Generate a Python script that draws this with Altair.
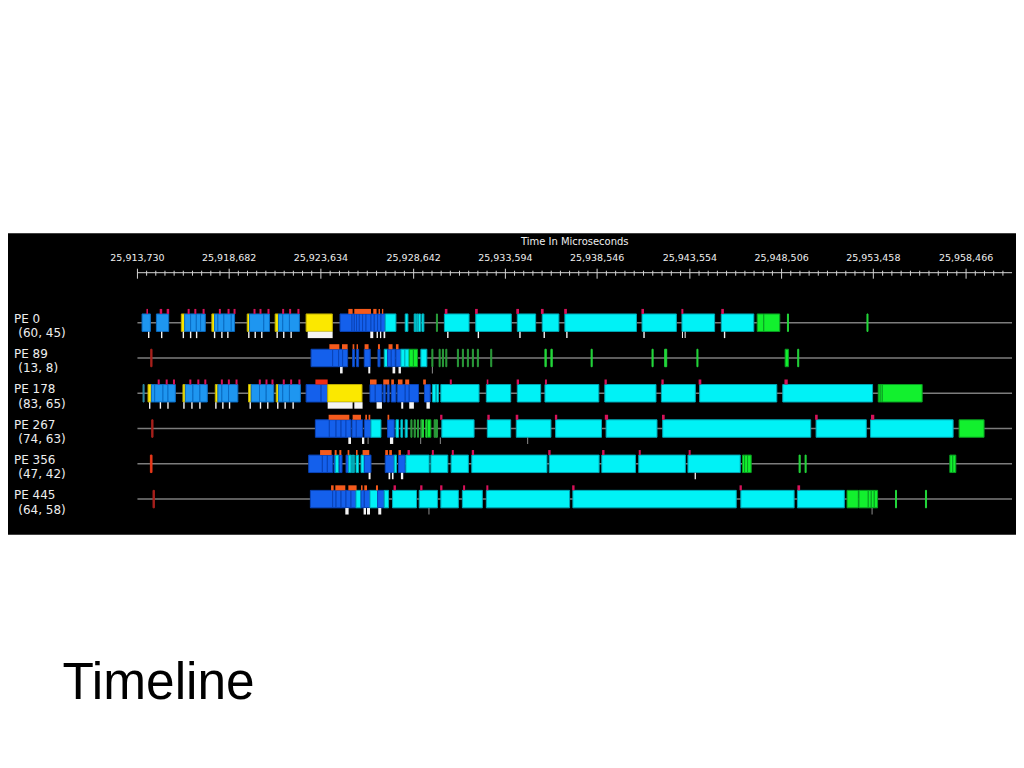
import altair as alt
import pandas as pd

# ---------------- data (times are microsecond offsets from BASE_US) ----------------
BASE_US = 25913730
TICK_LABELS_US = [25913730, 25918682, 25923634, 25928642, 25933594,
                  25938546, 25943554, 25948506, 25953458, 25958466]
AXIS_END_US = 47216
AXIS_TITLE = "Time In Microseconds"

PE_NAMES = ["PE 0", "PE 89", "PE 178", "PE 267", "PE 356", "PE 445"]
PE_COORDS = ["(60, 45)", "(13, 8)", "(83, 65)", "(74, 63)", "(47, 42)", "(64, 58)"]

PE0_BARS = [
    (250, 700, "lb"), (1024, 1686, "lb"),
    (2371, 2549, "ye"), (2549, 2872, "lb"), (2872, 3179, "lb"), (3179, 3411, "lb"), (3411, 3664, "lb"),
    (4019, 4165, "ye"), (4165, 4343, "lb"), (4343, 4666, "lb"), (4666, 5065, "lb"), (5065, 5243, "lb"),
    (5927, 6051, "ye"), (6051, 6821, "lb"), (6821, 7128, "lb"),
    (7435, 7613, "ye"), (7613, 7845, "lb"), (7845, 8206, "lb"), (8206, 8745, "lb"),
    (9106, 10523, "ye"),
    (10938, 11584, "db"), (11584, 11708, "db"), (11708, 11832, "db"), (11832, 11978, "db"),
    (11978, 12155, "db"), (12155, 12339, "db"), (12339, 12608, "db"), (12608, 12786, "db"),
    (12786, 12964, "db"), (12964, 13147, "db"), (13147, 13378, "db"), (13378, 13955, "cy"),
    (14456, 14602, "cy"), (14941, 15033, "cy"), (15065, 15140, "cy"), (15173, 15281, "cy"),
    (15356, 15464, "cy"), (16142, 16196, "dg"),
    (16573, 17904, "cy"), (18265, 20184, "cy"), (20507, 21498, "cy"), (21854, 22753, "cy"),
    (23077, 26940, "cy"), (27242, 29095, "cy"), (29397, 31159, "cy"), (31520, 33276, "cy"),
    (33459, 33815, "gr"), (33815, 34677, "gr"), (35092, 35146, "gl"), (39386, 39440, "gl"),
]
PE0_TOP = [
    (485, 571, "pk"), (1202, 1336, "pk"), (1579, 1713, "pk"),
    (2710, 2818, "pk"), (3071, 3179, "pk"), (3518, 3626, "pk"),
    (4397, 4504, "pk"), (4865, 4973, "pk"), (5189, 5296, "pk"),
    (6266, 6374, "pk"), (6590, 6697, "pk"), (7021, 7128, "pk"),
    (7813, 7920, "pk"), (8190, 8298, "pk"), (8637, 8745, "pk"),
    (11385, 11617, "or"), (11708, 12608, "or"), (12732, 12910, "or"), (13017, 13093, "or"), (13201, 13271, "or"),
    (16595, 16735, "pk"), (18228, 18373, "pk"), (20453, 20598, "pk"), (21784, 21929, "pk"),
    (23039, 23185, "pk"), (27209, 27349, "pk"), (29365, 29472, "pk"), (31520, 31660, "pk"),
]
PE0_LOW = [
    (571, 647, "wh"), (1272, 1347, "wh"), (2441, 2516, "wh"), (2834, 2910, "wh"), (3157, 3233, "wh"),
    (4127, 4203, "wh"), (4521, 4596, "wh"), (4844, 4919, "wh"), (5975, 6051, "wh"), (6320, 6396, "wh"),
    (6676, 6751, "wh"), (7506, 7581, "wh"), (7861, 7937, "wh"), (8260, 8335, "wh"), (9192, 10539, "wh"),
    (12570, 12732, "wh"), (12910, 12985, "wh"), (13093, 13163, "wh"), (13287, 13378, "wh"),
    (16719, 16795, "wh"), (18368, 18443, "wh"), (20614, 20690, "wh"), (21924, 21999, "wh"),
    (23147, 23222, "wh"), (27312, 27387, "wh"), (29397, 29451, "wh"), (29542, 29597, "wh"), (31660, 31735, "wh"),
]

PE89_BARS = [
    (717, 787, "rd"),
    (9375, 10539, "db"), (10539, 10862, "db"), (10862, 11078, "db"), (11078, 11347, "db"),
    (11617, 11724, "db"), (11832, 11940, "db"), (12247, 12570, "db"), (12985, 13093, "db"),
    (13325, 13502, "cy"), (13502, 13702, "db"), (13702, 13917, "db"), (13955, 14224, "db"),
    (14224, 14440, "cy"), (14440, 14672, "cy"), (14672, 14900, "gr"), (14900, 15119, "gr"), (15302, 15625, "cy"),
    (15895, 15950, "dg"), (16288, 16342, "dg"), (16466, 16520, "dg"), (16649, 16703, "dg"),
    (17274, 17328, "dg"), (17543, 17597, "dg"), (17813, 17867, "dg"), (18082, 18136, "dg"),
    (18352, 18406, "dg"), (19074, 19128, "dg"),
    (22000, 22070, "gl"), (22323, 22393, "gl"), (24494, 24550, "gl"), (27781, 27840, "gl"),
    (28465, 28573, "gl"), (30205, 30260, "gl"), (34968, 35146, "gr"), (35647, 35700, "gl"),
]
PE89_TOP = [
    (10361, 10900, "or"), (11045, 11347, "or"), (11617, 11708, "or"), (11832, 11907, "or"),
    (12263, 12479, "or"), (12985, 13093, "or"), (13556, 13772, "or"), (13955, 14095, "or"),
]
PE89_LOW = [
    (10938, 11078, "wh"), (12463, 12570, "wh"), (13772, 13917, "wh"), (14095, 14224, "wh"), (15895, 15950, "gy"),
]

PE178_BARS = [
    (302, 360, "tl"),
    (571, 754, "ye"), (754, 932, "lb"), (932, 1379, "lb"), (1379, 1649, "lb"), (1649, 2047, "lb"),
    (2457, 2586, "ye"), (2586, 2996, "lb"), (2996, 3373, "lb"), (3373, 3772, "lb"),
    (4203, 4343, "ye"), (4343, 4558, "lb"), (4558, 4919, "lb"), (4919, 5420, "lb"),
    (5997, 6142, "ye"), (6142, 6590, "lb"), (6590, 6951, "lb"), (6951, 7360, "lb"),
    (7489, 7613, "ye"), (7613, 7845, "lb"), (7845, 8206, "lb"), (8206, 8799, "lb"),
    (9106, 9914, "db"), (9914, 10270, "db"), (10270, 12123, "ye"),
    (12554, 12840, "db"), (12840, 13201, "db"), (13271, 13378, "db"), (13486, 13594, "db"),
    (13702, 13955, "db"), (14025, 14456, "db"), (14456, 14672, "db"), (14672, 15173, "db"),
    (15496, 15803, "db"),
    (15927, 16110, "cy"), (16142, 16250, "cy"), (16380, 18443, "cy"), (18836, 20151, "cy"),
    (20507, 21768, "cy"), (22000, 24909, "cy"), (25232, 27996, "cy"), (28287, 30119, "cy"),
    (30351, 34516, "cy"), (34839, 39688, "cy"),
    (39995, 40100, "gr"), (40100, 40211, "gr"), (40211, 42366, "gr"),
]
PE178_TOP = [
    (1094, 1202, "pk"), (1525, 1633, "pk"), (1918, 2026, "pk"),
    (2802, 2910, "pk"), (3233, 3341, "pk"), (3610, 3718, "pk"),
    (4504, 4612, "pk"), (4882, 4989, "pk"), (5296, 5404, "pk"),
    (6552, 6660, "pk"), (6913, 7021, "pk"), (7236, 7344, "pk"),
    (7845, 7953, "pk"), (8244, 8351, "pk"), (8691, 8799, "pk"),
    (9607, 10270, "rt"), (12554, 12910, "or"), (13271, 13594, "or"), (13702, 13847, "or"),
    (14063, 14311, "or"), (14456, 14672, "or"), (15426, 15571, "or"),
    (16864, 16972, "pk"), (18858, 18944, "pk"), (20474, 20598, "pk"), (22000, 22107, "pk"),
    (25216, 25340, "pk"), (28287, 28411, "pk"), (30297, 30442, "pk"), (34930, 35108, "pk"),
]
PE178_LOW = [
    (625, 700, "wh"), (1202, 1277, "wh"), (1611, 1686, "wh"),
    (2473, 2549, "wh"), (2904, 2980, "wh"), (3335, 3411, "wh"),
    (4197, 4273, "wh"), (4574, 4650, "wh"), (4936, 5011, "wh"),
    (6051, 6126, "wh"), (6606, 6681, "wh"), (6999, 7074, "wh"),
    (7538, 7613, "wh"), (7937, 8012, "wh"), (8368, 8443, "wh"),
    (10270, 11617, "wh"), (11708, 12155, "wh"),
    (12910, 13201, "wh"), (14241, 14349, "wh"), (14672, 14925, "wh"), (15604, 15787, "wh"),
]

PE267_BARS = [
    (770, 841, "rd"),
    (9607, 10361, "db"), (10361, 10722, "db"), (10722, 10992, "db"), (10992, 11261, "db"), (11261, 11530, "db"),
    (11584, 11816, "db"), (11816, 12155, "db"), (12247, 12608, "db"), (12608, 13147, "cy"),
    (13502, 13863, "db"), (13955, 14095, "cy"), (14224, 14311, "cy"), (14456, 14564, "cy"),
    (14763, 14820, "dg"), (14941, 15000, "dg"), (15119, 15175, "dg"), (15302, 15360, "dg"),
    (15388, 15440, "gl"), (15571, 15625, "gl"), (15658, 15841, "gr"), (16019, 16100, "dg"), (16120, 16196, "dg"),
    (16433, 18174, "cy"), (18890, 20151, "cy"), (20453, 22323, "cy"), (22576, 25054, "cy"),
    (25302, 28050, "cy"), (28357, 36348, "cy"), (36638, 39349, "cy"), (39580, 44036, "cy"),
    (44359, 45707, "gr"),
]
PE267_TOP = [
    (10323, 11439, "or"), (11617, 12069, "or"), (12301, 12392, "or"), (12479, 12570, "or"), (13502, 13594, "or"),
    (16342, 16466, "pk"), (18890, 19020, "pk"), (20421, 20561, "pk"), (22538, 22662, "pk"),
    (25232, 25410, "pk"), (28319, 28465, "pk"), (36585, 36725, "pk"), (39602, 39780, "pk"),
]
PE267_LOW = [
    (11385, 11530, "wh"), (12123, 12247, "wh"), (12425, 12479, "gy"), (13632, 13809, "wh"),
    (15264, 15318, "gy"), (16326, 16380, "gy"), (21040, 21094, "gy"),
]

PE356_BARS = [
    (700, 787, "rr"),
    (9246, 9984, "db"), (9984, 10253, "db"), (10253, 10539, "db"), (10614, 10684, "db"),
    (10684, 10862, "cy"), (10900, 11045, "db"),
    (11261, 11401, "db"), (11401, 11530, "cy"), (11563, 11617, "cy"), (11654, 11708, "cy"),
    (11800, 11940, "cy"), (12069, 12247, "cy"), (12247, 12608, "db"),
    (13378, 13863, "db"), (13863, 13987, "cy"), (14095, 14456, "db"),
    (14494, 15749, "cy"), (15841, 16757, "cy"), (16935, 17867, "cy"), (18050, 22107, "cy"),
    (22231, 24925, "cy"), (25070, 26886, "cy"), (27064, 29580, "cy"), (29720, 32544, "cy"),
    (32667, 32780, "gr"), (32780, 32940, "gr"), (32940, 33136, "gr"),
    (35722, 35780, "gl"), (36046, 36100, "gl"), (43858, 44020, "gr"), (44020, 44182, "gr"),
]
PE356_TOP = [
    (9860, 10485, "or"), (10647, 10754, "or"), (10900, 11008, "or"), (11347, 11439, "or"),
    (11800, 11886, "or"), (12155, 12516, "or"), (13378, 13524, "or"), (13594, 13739, "or"), (14095, 14224, "or"),
    (14580, 14709, "pk"), (15895, 16002, "pk"), (16972, 17080, "pk"), (18050, 18174, "pk"),
    (22177, 22306, "pk"), (25087, 25216, "pk"), (27064, 27172, "pk"), (29758, 29866, "pk"),
]
PE356_LOW = [
    (12479, 12586, "wh"), (13556, 13648, "wh"), (13739, 13826, "wh"), (14224, 14349, "wh"), (30081, 30151, "wh"),
]

PE445_BARS = [
    (841, 916, "rd"),
    (9337, 10539, "db"), (10539, 10722, "db"), (10722, 10992, "db"), (10992, 11261, "db"),
    (11261, 11530, "db"), (11530, 11800, "db"),
    (11800, 12069, "cy"), (12069, 12247, "db"), (12247, 12554, "db"), (12554, 12964, "cy"),
    (12964, 13325, "db"), (13325, 13556, "cy"),
    (13772, 15065, "cy"), (15210, 16196, "cy"), (16380, 17328, "cy"), (17543, 18621, "cy"),
    (18836, 23330, "cy"), (23508, 32328, "cy"), (32576, 35453, "cy"), (35631, 38163, "cy"),
    (38309, 38918, "gr"), (38955, 39456, "gr"), (39456, 39618, "gr"), (39618, 39780, "gr"), (39780, 39958, "gr"),
    (40927, 40980, "gl"), (42544, 42600, "gl"),
]
PE445_TOP = [
    (10453, 10593, "or"), (10684, 11223, "or"), (11385, 11832, "or"), (12069, 12155, "or"),
    (12247, 12392, "or"), (12877, 12985, "or"),
    (13826, 13955, "pk"), (15264, 15388, "pk"), (16342, 16466, "pk"), (17581, 17689, "pk"),
    (18836, 18944, "pk"), (23470, 23599, "pk"), (32506, 32630, "pk"), (35631, 35776, "pk"),
]
PE445_LOW = [
    (11223, 11401, "wh"), (12209, 12339, "wh"), (12392, 12554, "wh"), (13001, 13163, "wh"),
    (15711, 15765, "gy"), (39634, 39688, "gy"),
]

ROW_BARS = [PE0_BARS, PE89_BARS, PE178_BARS, PE267_BARS, PE356_BARS, PE445_BARS]
ROW_TOP = [PE0_TOP, PE89_TOP, PE178_TOP, PE267_TOP, PE356_TOP, PE445_TOP]
ROW_LOW = [PE0_LOW, PE89_LOW, PE178_LOW, PE267_LOW, PE356_LOW, PE445_LOW]

KINDS = ["lb", "db", "cy", "ye", "gr", "gl", "dg", "rd", "rr", "tl", "pk", "or", "rt", "wh", "gy"]
FILLS = ["#1e96f0", "#1460ec", "#00f2f6", "#fbe800", "#12f02e", "#22d83a", "#2a9e3a",
         "#a8201c", "#e8381a", "#2a86a0", "#d8125a", "#f55a1c", "#f02c14", "#f4f4f4", "#8c8c8c"]
STROKES = ["#0b6cc4", "#0a44b8", "#00a8b8", "#bfae00", "#0a9e22", "#22d83a", "#2a9e3a",
           "#a8201c", "#e8381a", "#2a86a0", "#d8125a", "#f55a1c", "#f02c14", "#f4f4f4", "#8c8c8c"]

# ---------------- tables ----------------
def table(rows):
    out = []
    for i, lst in enumerate(rows):
        for s, e, k in lst:
            out.append({"row": i, "start": s, "end": e, "kind": k})
    return pd.DataFrame(out)

bars_df = table(ROW_BARS)
top_df = table(ROW_TOP)
low_df = table(ROW_LOW)

major = [v - BASE_US for v in TICK_LABELS_US]
ticks_df = pd.DataFrame({"x": major, "label": [f"{v:,}" for v in TICK_LABELS_US]})
minor = []
for a, b in zip(major[:-1], major[1:]):
    minor += [a + (b - a) * j / 10 for j in range(1, 10)]
step = (major[-1] - major[0]) / (10 * (len(major) - 1))
m = major[-1] + step
while m < AXIS_END_US:
    minor.append(m)
    m += step
minor_df = pd.DataFrame({"x": minor})
axis_df = pd.DataFrame({"start": [0], "end": [AXIS_END_US], "mid": [AXIS_END_US / 2], "title": [AXIS_TITLE]})
rows_df = pd.DataFrame({"row": list(range(len(PE_NAMES))), "name": PE_NAMES, "coords": PE_COORDS,
                        "start": 0, "end": AXIS_END_US})
slide_df = pd.DataFrame({"t": ["Timeline"]})

# ---------------- scales ----------------
xs = alt.Scale(domain=[-6988, 47431], nice=False, zero=False)
ys = alt.Scale(domain=[-2.393, 5.867], nice=False, zero=False, reverse=True)
fill_scale = alt.Scale(domain=KINDS, range=FILLS)
stroke_scale = alt.Scale(domain=KINDS, range=STROKES)
TXT = "#eeeeee"
FONT = "DejaVu Sans"

row_lines = alt.Chart(rows_df).mark_rule(color="#7c7c7c", strokeWidth=1.5).encode(
    x=alt.X("start:Q", scale=xs, axis=None), x2="end:Q",
    y=alt.Y("row:Q", scale=ys, axis=None))

main = alt.Chart(bars_df).mark_bar(orient="horizontal", size=17.5, strokeWidth=1).encode(
    x=alt.X("start:Q", scale=xs, axis=None), x2="end:Q",
    y=alt.Y("row:Q", scale=ys, axis=None),
    fill=alt.Fill("kind:N", scale=fill_scale, legend=None),
    stroke=alt.Stroke("kind:N", scale=stroke_scale, legend=None))

top = alt.Chart(top_df).mark_bar(orient="horizontal", size=5, yOffset=-11.3).encode(
    x=alt.X("start:Q", scale=xs, axis=None), x2="end:Q",
    y=alt.Y("row:Q", scale=ys, axis=None),
    fill=alt.Fill("kind:N", scale=fill_scale, legend=None))

low = alt.Chart(low_df).mark_bar(orient="horizontal", size=6.5, yOffset=12.2).encode(
    x=alt.X("start:Q", scale=xs, axis=None), x2="end:Q",
    y=alt.Y("row:Q", scale=ys, axis=None),
    fill=alt.Fill("kind:N", scale=fill_scale, legend=None))

names = alt.Chart(rows_df).mark_text(font=FONT, fontSize=12, color=TXT, align="left",
                                     baseline="alphabetic").encode(
    x=alt.value(6), y=alt.Y("row:Q", scale=ys, axis=None), text="name:N")
coords = alt.Chart(rows_df).mark_text(font=FONT, fontSize=12, color=TXT, align="left",
                                      baseline="alphabetic", dy=14.5).encode(
    x=alt.value(10.3), y=alt.Y("row:Q", scale=ys, axis=None), text="coords:N")

axis_line = alt.Chart(axis_df).mark_rule(color="#d4d4d4", strokeWidth=1).encode(
    x=alt.X("start:Q", scale=xs, axis=None), x2="end:Q", y=alt.value(39.5))
major_ticks = alt.Chart(ticks_df).mark_rule(color="#d4d4d4", strokeWidth=1).encode(
    x=alt.X("x:Q", scale=xs, axis=None), y=alt.value(35.5), y2=alt.value(45.5))
minor_ticks = alt.Chart(minor_df).mark_rule(color="#d4d4d4", strokeWidth=1).encode(
    x=alt.X("x:Q", scale=xs, axis=None), y=alt.value(37.5), y2=alt.value(42.5))
tick_labels = alt.Chart(ticks_df).mark_text(font=FONT, fontSize=9.5, color=TXT, align="center",
                                            baseline="alphabetic").encode(
    x=alt.X("x:Q", scale=xs, axis=None), y=alt.value(27.5), text="label:N")
axis_title = alt.Chart(axis_df).mark_text(font=FONT, fontSize=10, color=TXT, align="center",
                                          baseline="alphabetic").encode(
    x=alt.X("mid:Q", scale=xs, axis=None), y=alt.value(12), text="title:N")

slide_title = alt.Chart(slide_df).mark_text(font="Liberation Sans", fontSize=51.5, color="black",
                                            align="left", baseline="alphabetic").encode(
    x=alt.value(54.5), y=alt.value(467), text="t:N")

chart = alt.layer(
    row_lines, main, top, low, names, coords,
    axis_line, major_ticks, minor_ticks, tick_labels, axis_title, slide_title
).properties(
    width=1010, height=302,
    autosize=alt.AutoSizeParams(type="none"),
    padding={"left": 0, "top": 225, "right": 0, "bottom": 205},
).configure(background="white").configure_view(fill="black", strokeWidth=0)

chart.save("out.html", embed_options={"renderer": "svg", "actions": False})
